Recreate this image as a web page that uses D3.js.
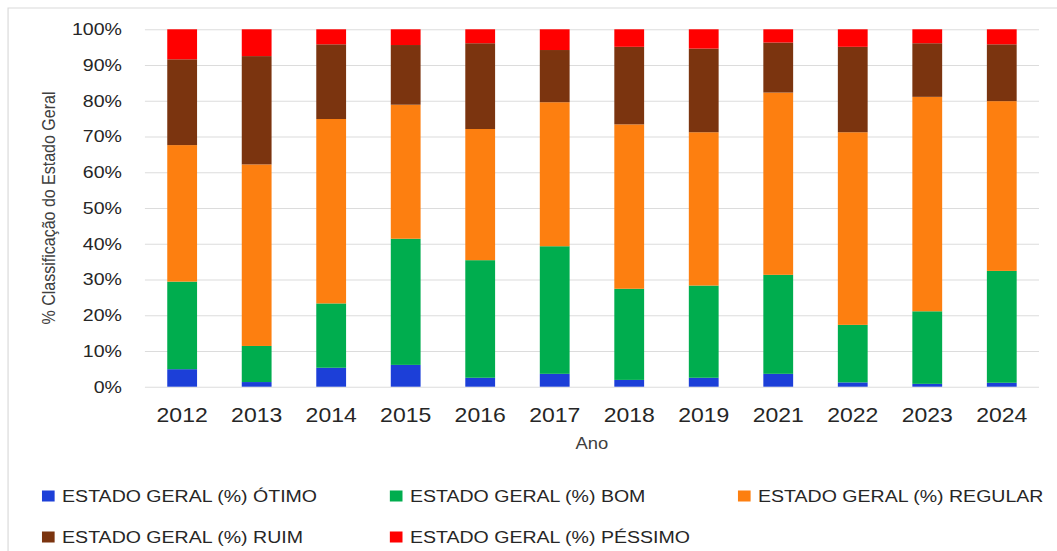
<!DOCTYPE html>
<html lang="pt">
<head>
<meta charset="UTF-8">
<title>Estado Geral</title>
<script src="https://cdn.jsdelivr.net/npm/d3@7"></script>
<style>
  body { margin: 0; background: #fff; }
  svg { display: block; }
  text { font-family: "Liberation Sans", Arial, sans-serif; }
</style>
</head>
<body>
<script>
// dados (% por ano)
var anos = ["2012", "2013", "2014", "2015", "2016", "2017", "2018", "2019", "2021", "2022", "2023", "2024"];
var otimo   = [4.9, 1.3, 5.3, 6.1, 2.5, 3.6, 1.9, 2.5, 3.6, 1.2, 0.8, 1.1];
var bom     = [24.5, 10.1, 18.0, 35.3, 32.9, 35.7, 25.5, 25.8, 27.7, 16.1, 20.3, 31.3];
var regular = [38.2, 50.8, 51.6, 37.5, 36.7, 40.3, 46.0, 42.9, 51.0, 53.9, 60.0, 47.5];
var ruim    = [24.0, 30.3, 20.9, 16.7, 24.0, 14.6, 21.7, 23.4, 14.0, 23.9, 15.0, 15.9];
var pessimo = [8.4, 7.5, 4.2, 4.4, 3.9, 5.8, 4.9, 5.4, 3.7, 4.9, 3.9, 4.2];
var yTicks = [0, 10, 20, 30, 40, 50, 60, 70, 80, 90, 100];

var series = [
  {key: "otimo",   label: "ESTADO GERAL (%) ÓTIMO",   color: "#1c3fd8", vals: otimo},
  {key: "bom",     label: "ESTADO GERAL (%) BOM",     color: "#00ad4e", vals: bom},
  {key: "regular", label: "ESTADO GERAL (%) REGULAR", color: "#fd7f10", vals: regular},
  {key: "ruim",    label: "ESTADO GERAL (%) RUIM",    color: "#7b340f", vals: ruim},
  {key: "pessimo", label: "ESTADO GERAL (%) PÉSSIMO", color: "#ff0000", vals: pessimo}
];

var rows = anos.map(function(a, i) {
  var r = {ano: a};
  series.forEach(function(s) { r[s.key] = s.vals[i]; });
  return r;
});

// the picture is stretched horizontally, so draw in a narrower box
var W = 1057, H = 551, sx = 1.15;
var VW = W / sx;
var m = {left: 126, right: VW - 903.5, top: 29.3, bottom: H - 386.7};
var iw = VW - m.left - m.right, ih = H - m.top - m.bottom;

var svg = d3.select("body").append("svg")
  .attr("width", W).attr("height", H)
  .attr("viewBox", "0 0 " + VW + " " + H)
  .attr("preserveAspectRatio", "none");

// outer frame
svg.append("rect")
  .attr("x", 7).attr("y", 8).attr("width", VW + 20).attr("height", H + 20)
  .attr("fill", "none").attr("stroke", "#d9d9d9").attr("stroke-width", 1);

var g = svg.append("g").attr("transform", "translate(" + m.left + "," + m.top + ")");

var x = d3.scaleBand().domain(anos).range([0, iw]).paddingInner(0.6).paddingOuter(0.3);
var y = d3.scaleLinear().domain([0, 100]).range([ih, 0]);

var yAxis = g.append("g")
  .call(d3.axisLeft(y).tickValues(yTicks).tickSize(-iw).tickPadding(20)
    .tickFormat(function(d) { return d + "%"; }));
yAxis.select(".domain").remove();
yAxis.selectAll("line").attr("stroke", "#dcdcdc").attr("stroke-width", 1);
yAxis.selectAll("text").attr("font-size", 17).attr("fill", "#262626")
  .attr("font-family", "Liberation Sans, Arial, sans-serif");

var stack = d3.stack().keys(series.map(function(s) { return s.key; }));
var layers = stack(rows);

g.selectAll("g.layer")
  .data(layers)
  .enter()
  .append("g")
  .attr("class", "layer")
  .attr("fill", function(d, i) { return series[i].color; })
  .selectAll("rect")
  .data(function(d) { return d; })
  .enter()
  .append("rect")
  .attr("x", function(d) { return x(d.data.ano); })
  .attr("width", x.bandwidth())
  .attr("y", function(d) { return y(d[1]); })
  .attr("height", function(d) { return y(d[0]) - y(d[1]); });

var xAxis = g.append("g")
  .attr("transform", "translate(0," + ih + ")")
  .call(d3.axisBottom(x).tickSize(0).tickPadding(21));
xAxis.select(".domain").remove();
xAxis.selectAll("text").attr("font-size", 20).attr("fill", "#262626")
  .attr("font-family", "Liberation Sans, Arial, sans-serif");

// titulos dos eixos
svg.append("text")
  .attr("x", m.left + iw / 2).attr("y", 449)
  .attr("text-anchor", "middle").attr("font-size", 16).attr("fill", "#404040")
  .text("Ano");

svg.append("text")
  .attr("transform", "translate(42," + (m.top + ih / 2) + ") rotate(-90)")
  .attr("dy", "0.35em")
  .attr("text-anchor", "middle").attr("font-size", 16).attr("fill", "#404040")
  .text("% Classificação do Estado Geral");

// legenda
var legX = [36.5, 339, 641.7];
var legY = [496, 537];
var leg = svg.selectAll("g.leg")
  .data(series)
  .enter()
  .append("g")
  .attr("class", "leg")
  .attr("transform", function(d, i) {
    return "translate(" + legX[i % 3] + "," + legY[Math.floor(i / 3)] + ")";
  });
leg.append("rect")
  .attr("x", 0).attr("y", -5.5).attr("width", 11).attr("height", 11)
  .attr("fill", function(d) { return d.color; });
leg.append("text")
  .attr("x", 17.5).attr("y", 0).attr("dy", "0.36em")
  .attr("font-size", 17).attr("fill", "#262626")
  .text(function(d) { return d.label; });
</script>
</body>
</html>
